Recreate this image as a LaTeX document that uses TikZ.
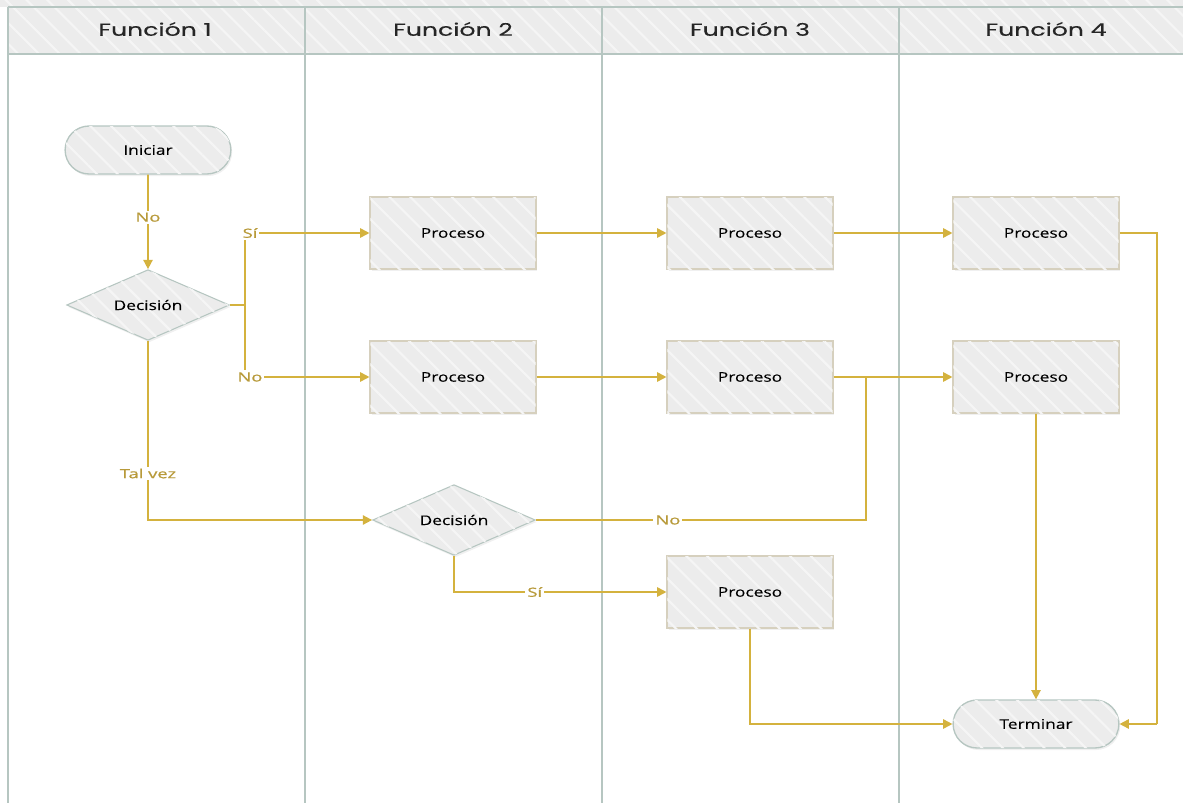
\documentclass[tikz,border=0pt]{standalone}
\usepackage{fontspec}
\setmainfont{Open Sans}
\newfontfamily\headfont[FakeStretch=1.45, FakeBold=0.3]{Poppins}
\newfontfamily\nodefont[FakeStretch=1.3, FakeBold=0.2]{Open Sans}
\newfontfamily\lblfont[FakeStretch=1.45, FakeBold=0.8]{Open Sans}
\usetikzlibrary{arrows.meta, shapes.geometric, shapes.misc, patterns.meta, shadows}

\definecolor{lanegray}{HTML}{B6C6C1}
\definecolor{boxfill}{HTML}{ECECEC}
\definecolor{boxedge}{HTML}{D6D0BE}
\definecolor{gold}{HTML}{D4B23E}
\definecolor{labelgold}{HTML}{B89A3A}

\tikzset{
	hatch/.style={fill=boxfill, postaction={pattern={Lines[angle=-45, distance=11pt, line width=1.6pt]}, pattern color=white!45!boxfill}},
	boxshadow/.style={drop shadow={opacity=0.12, shadow xshift=1pt, shadow yshift=-1.5pt}},
	proceso/.style={rectangle, hatch, draw=boxedge, line width=1.3pt, minimum width=124pt, minimum height=54pt, font=\nodefont\fontsize{10}{12}\selectfont, boxshadow},
	terminal/.style={rounded rectangle, hatch, draw=lanegray, line width=1pt, minimum width=131pt, minimum height=36pt, font=\nodefont\fontsize{10}{12}\selectfont, boxshadow},
	decision/.style={diamond, aspect=2.3, hatch, draw=lanegray, line width=0.8pt, inner sep=0pt, minimum width=122pt, minimum height=53pt, font=\nodefont\fontsize{10}{12}\selectfont, boxshadow},
	line/.style={draw=gold, line width=1.3pt},
	flow/.style={line, -{Triangle[length=7pt, width=7pt]}},
	lbl/.style={fill=white, text=labelgold, inner sep=1.5pt, font=\lblfont\fontsize{9.5}{11}\selectfont},
	lane/.style={draw=lanegray, line width=2pt},
	head/.style={font=\headfont\fontsize{13}{15}\selectfont, text=black!85}
}

\begin{document}
\begin{tikzpicture}[x=0.75pt, y=-0.75pt]
	\useasboundingbox (0,0) rectangle (1183,803);
	% swimlanes
	\fill[hatch] (0,0) rectangle (1183,7);
	\fill[hatch] (8,7) rectangle (1183,54);
	\draw[lanegray, line width=1.5pt] (8,7) -- (1183,7);
	\draw[lanegray, line width=1.5pt] (8,54) -- (1183,54);
	\foreach \xl in {8, 305, 602, 899}
		\draw[lane] (\xl, 7) -- (\xl, 803);
	\node [head] (h1) at (155, 29) {Función 1};
	\node [head] (h2) at (453, 29) {Función 2};
	\node [head] (h3) at (750, 29) {Función 3};
	\node [head] (h4) at (1046, 29) {Función 4};
	
	% nodes
	\node [terminal] (ini) at (148, 150) {Iniciar};
	\node [decision] (dec1) at (148, 305) {Decisión};
	\node [proceso] (p21) at (453, 233) {Proceso};
	\node [proceso] (p31) at (750, 233) {Proceso};
	\node [proceso] (p41) at (1036, 233) {Proceso};
	\node [proceso] (p22) at (453, 377) {Proceso};
	\node [proceso] (p32) at (750, 377) {Proceso};
	\node [proceso] (p42) at (1036, 377) {Proceso};
	\node [decision] (dec2) at (454, 520) {Decisión};
	\node [proceso] (p34) at (750, 592) {Proceso};
	\node [terminal] (term) at (1036, 724) {Terminar};
	
	\coordinate (j1) at (245, 305);
	\coordinate (j2) at (866, 377);
	\coordinate (j3) at (1157, 724);
	
	% connectors
	\draw[flow] (ini) -- node[lbl, pos=0.45] {No} (dec1);
	\draw[line] (dec1.east) -- (j1);
	\draw[flow] (j1) |- node[lbl, pos=0.52] {Sí} (p21);
	\draw[flow] (j1) |- node[lbl, pos=0.52] {No} (p22);
	\draw[flow] (dec1.south) |- node[lbl, pos=0.37] {Tal vez} (dec2.west);
	\draw[flow] (p21) -- (p31);
	\draw[flow] (p31) -- (p41);
	\draw[flow] (p22) -- (p32);
	\draw[flow] (p32) -- (p42);
	\draw[line] (dec2.east) -| node[lbl, pos=0.2] {No} (j2);
	\draw[flow] (dec2.south) |- node[lbl, pos=0.69] {Sí} (p34);
	\draw[flow] (p34.south) |- (term.west);
	\draw[line] (p41.east) -| (j3);
	\draw[flow] (j3) -- (term.east);
	\draw[flow] (p42) -- (term);
\end{tikzpicture}
\end{document}
